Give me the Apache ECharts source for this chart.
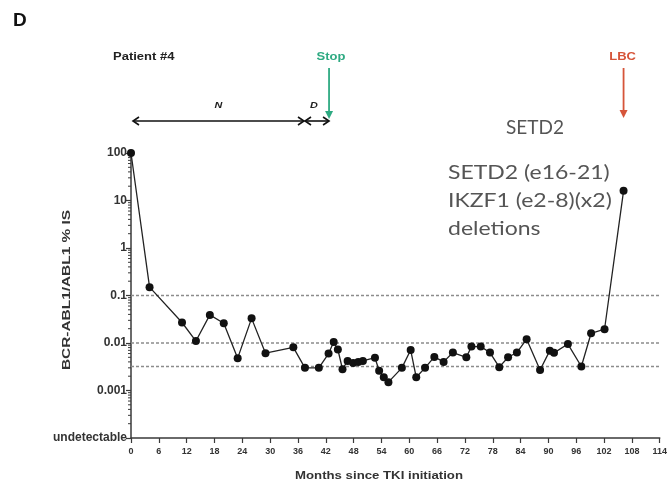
<!DOCTYPE html>
<html>
<head>
<meta charset="utf-8">
<script src="https://cdn.jsdelivr.net/npm/echarts@6/dist/echarts.min.js"></script>
<style>
  html, body { margin: 0; padding: 0; background: #fff; }
  #chart { width: 670px; height: 485px; }
</style>
</head>
<body>
<div id="chart"></div>
<script>
// Months since TKI initiation and BCR-ABL1/ABL1 (% IS) measured at each visit
var months = [0, 4, 11, 14, 17, 20, 23, 26, 29, 35, 37.5, 40.5, 42.6, 43.7, 44.6, 45.6, 46.7, 47.9, 49, 50,
  52.6, 53.5, 54.5, 55.5, 58.4, 60.3, 61.5, 63.4, 65.4, 67.4, 69.4, 72.3, 73.4, 75.4, 77.4, 79.4,
  81.3, 83.2, 85.3, 88.2, 90.3, 91.2, 94.2, 97.1, 99.2, 102.1, 106.2];
var ratios = [100, 0.15, 0.027, 0.011, 0.039, 0.026, 0.0048, 0.033, 0.0061, 0.0081, 0.003, 0.003, 0.006, 0.0105, 0.0073, 0.0028, 0.0042, 0.0038, 0.004, 0.0042,
  0.0049, 0.0026, 0.0019, 0.0015, 0.003, 0.0071, 0.0019, 0.003, 0.0051, 0.004, 0.0063, 0.005, 0.0084, 0.0084, 0.0063, 0.0031,
  0.005, 0.0063, 0.012, 0.0027, 0.0069, 0.0062, 0.0095, 0.0032, 0.016, 0.0195, 16];

// Molecular response thresholds (MMR, MR4, MR4.5)
var thresholds = [0.1, 0.01, 0.0032];

// Y tick labels, keyed by decade exponent; the lowest decade stands for "undetectable"
var yTickLabels = { '-4': 'undetectable', '-3': '0.001', '-2': '0.01', '-1': '0.1', '0': '1', '1': '10', '2': '100' };

// Clinical events along the time line (months)
var phaseN = [0, 37.3];
var phaseD = [37.3, 42.7];
var stopMonth = 42.7;
var lbcMonth = 106.2;

var xMin = 0, xMax = 114;

var axisColor = '#3a3a3a';
var labelFont = '"Liberation Sans", Arial, sans-serif';

// Minor log ticks (2..9 within each decade)
var minorTicks = [];
for (var e = -4; e < 2; e++) {
  for (var m = 2; m <= 9; m++) minorTicks.push([0, m * Math.pow(10, e)]);
}

var chart = echarts.init(document.getElementById('chart'), null, { renderer: 'canvas' });

var seriesData = months.map(function (mo, i) { return [mo, ratios[i]]; });

var thresholdSeries = thresholds.map(function (t) {
  return {
    type: 'line',
    silent: true,
    data: [[xMin, t], [xMax, t]],
    symbol: 'none',
    lineStyle: { color: '#8c8c8c', type: [3, 2], width: 1.5 },
    z: 2
  };
});

chart.setOption({
  animation: false,
  backgroundColor: '#fff',
  grid: { left: 131, right: 8, top: 153, bottom: 47, containLabel: false },
  xAxis: {
    type: 'value', min: xMin, max: xMax, interval: 6,
    axisLine: { show: true, lineStyle: { color: axisColor, width: 1.5 } },
    axisTick: { show: true, length: 5, lineStyle: { color: axisColor, width: 1.2 } },
    axisLabel: { fontSize: 9, color: '#333', margin: 9, fontFamily: labelFont, fontWeight: 'bold' },
    splitLine: { show: false }
  },
  yAxis: {
    type: 'log', logBase: 10, min: 0.0001, max: 100, splitNumber: 6,
    axisLine: { show: true, lineStyle: { color: axisColor, width: 1.5 } },
    axisTick: { show: true, length: 5, lineStyle: { color: axisColor, width: 1.2 } },
    axisLabel: {
      fontSize: 12, color: '#333', margin: 4, fontFamily: labelFont, fontWeight: 'bold',
      formatter: function (v) {
        var k = String(Math.round(Math.log(v) / Math.LN10));
        return yTickLabels[k] !== undefined ? yTickLabels[k] : '';
      }
    },
    splitLine: { show: false }
  },
  series: [
    {
      name: 'minor ticks',
      type: 'custom',
      silent: true,
      clip: false,
      data: minorTicks,
      renderItem: function (params, api) {
        var p = api.coord([api.value(0), api.value(1)]);
        return {
          type: 'line',
          shape: { x1: p[0] - 3, y1: p[1], x2: p[0], y2: p[1] },
          style: { stroke: axisColor, lineWidth: 1 }
        };
      },
      z: 1
    }
  ].concat(thresholdSeries).concat([
    {
      name: 'BCR-ABL1/ABL1 % IS',
      type: 'line',
      data: seriesData,
      symbol: 'circle',
      symbolSize: 8,
      itemStyle: { color: '#111' },
      lineStyle: { color: '#222', width: 1.3 },
      z: 5
    }
  ])
});

// Annotations placed through the chart's own coordinate conversion
function px(mo, v) { return chart.convertToPixel({ gridIndex: 0 }, [mo, v]); }

var armY = 121;
function dblArrow(x1, x2, y) {
  return [
    { type: 'line', shape: { x1: x1, y1: y, x2: x2, y2: y }, style: { stroke: '#111', lineWidth: 1.6 } },
    { type: 'polyline', shape: { points: [[x1 + 6, y - 4], [x1, y], [x1 + 6, y + 4]] }, style: { stroke: '#111', lineWidth: 1.6, fill: null } },
    { type: 'polyline', shape: { points: [[x2 - 6, y - 4], [x2, y], [x2 - 6, y + 4]] }, style: { stroke: '#111', lineWidth: 1.6, fill: null } }
  ];
}
function downArrow(x, y1, y2, color) {
  return [
    { type: 'line', shape: { x1: x, y1: y1, x2: x, y2: y2 - 6 }, style: { stroke: color, lineWidth: 1.8 } },
    { type: 'polygon', shape: { points: [[x - 4, y2 - 8], [x + 4, y2 - 8], [x, y2]] }, style: { fill: color } }
  ];
}
function label(x, y, text, font, fill, align, sx, rot) {
  return {
    type: 'text', x: x, y: y, scaleX: sx || 1, rotation: rot || 0,
    style: { text: text, font: font, fill: fill, align: align || 'left', verticalAlign: 'middle' }
  };
}

var nA = px(phaseN[0], 1)[0] + 2, nB = px(phaseN[1], 1)[0];
var dA = px(phaseD[0], 1)[0] + 1, dB = px(phaseD[1], 1)[0];
var stopX = px(stopMonth, 1)[0];
var lbcX = px(lbcMonth, 1)[0];

var stopColor = '#2eaa82';
var lbcColor = '#d6553a';
var noteColor = '#555';
var noteFont = 'Lato, "Open Sans", sans-serif';

var graphics = [
  label(13, 21, 'D', 'bold 19px ' + labelFont, '#111'),
  label(113, 57, 'Patient #4', 'bold 10px ' + labelFont, '#222', 'left', 1.3),
  label((nA + nB) / 2, 106, 'N', 'italic bold 9px ' + labelFont, '#222', 'center', 1.2),
  label((dA + dB) / 2 - 3, 106, 'D', 'italic bold 9px ' + labelFont, '#222', 'center', 1.2),
  label(stopX + 2, 57, 'Stop', 'bold 10px ' + labelFont, stopColor, 'center', 1.3),
  label(lbcX - 1, 57, 'LBC', 'bold 10px ' + labelFont, lbcColor, 'center', 1.3),
  label(535, 128, 'SETD2', '20px ' + noteFont, noteColor, 'center', 0.95),
  label(448, 173, 'SETD2 (e16-21)', '20px ' + noteFont, noteColor, 'left', 1.15),
  label(448, 201, 'IKZF1 (e2-8)(x2)', '20px ' + noteFont, noteColor, 'left', 1.15),
  label(448, 229, 'deletions', '20px ' + noteFont, noteColor, 'left', 1.15),
  label(379, 476, 'Months since TKI initiation', 'bold 11px ' + labelFont, '#333', 'center', 1.2),
  label(67, 290, 'BCR-ABL1/ABL1 % IS', 'bold 11px ' + labelFont, '#333', 'center', 1.4, Math.PI / 2)
]
  .concat(dblArrow(nA, nB, armY))
  .concat(dblArrow(dA, dB, armY))
  .concat(downArrow(stopX, 68, 119, stopColor))
  .concat(downArrow(lbcX, 68, 118, lbcColor));

chart.setOption({ graphic: graphics });
</script>
</body>
</html>
